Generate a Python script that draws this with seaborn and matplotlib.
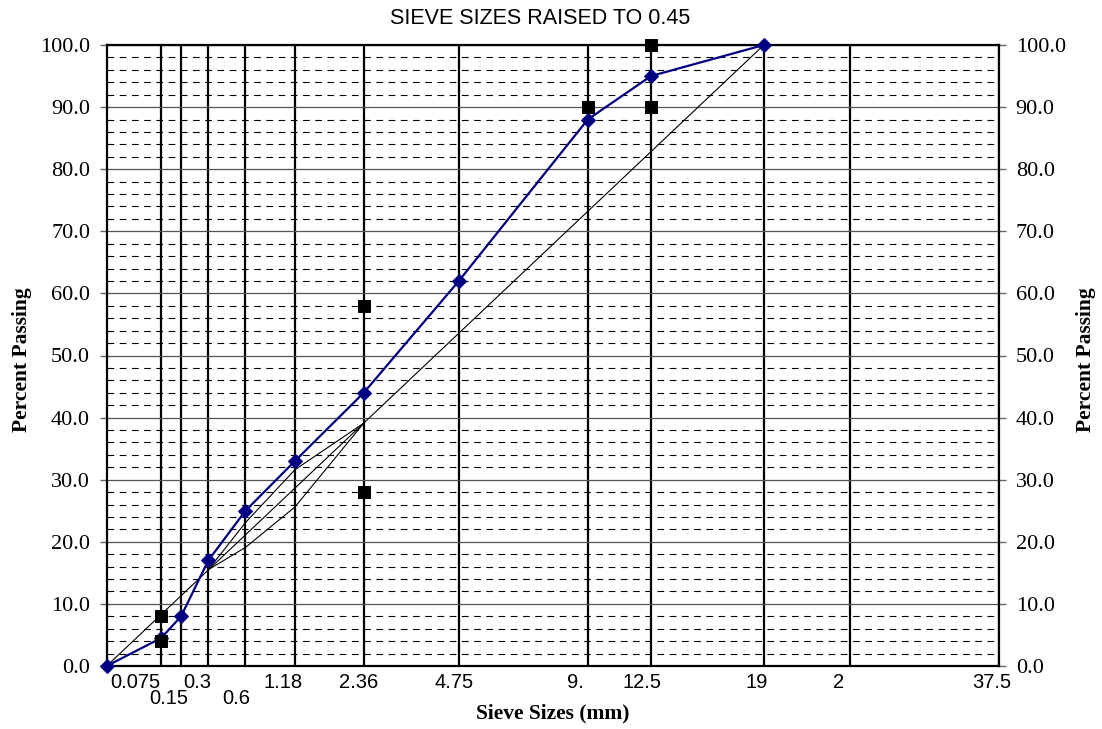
import numpy as np
import pandas as pd
import seaborn as sns
import matplotlib.pyplot as plt
from matplotlib.ticker import MultipleLocator

POWER = 0.45

# sieve sizes (mm) and the labels as they appear under the axis
sieve_sizes = [0.075, 0.15, 0.3, 0.6, 1.18, 2.36, 4.75, 9.5, 12.5, 19, 25, 37.5]
sieve_labels = ["0.075", "0.15", "0.3", "0.6", "1.18", "2.36", "4.75", "9.", "12.5", "19", "2", "37.5"]
label_row = [0, 1, 0, 1, 0, 0, 0, 0, 0, 0, 0, 0]
label_dx = [-26, -12, -11, -9, -12, -5, -5, -12, -9, -7, -12, -7]

# blend gradation
blend_sizes = [0, 0.075, 0.15, 0.3, 0.6, 1.18, 2.36, 4.75, 9.5, 12.5, 19]
blend_passing = [0, 4.5, 8, 17, 25, 33, 44, 62, 88, 95, 100]

# control points
control_sizes = [0.075, 0.075, 2.36, 2.36, 9.5, 12.5, 12.5]
control_passing = [4, 8, 28, 58, 90, 90, 100]

# maximum density line
maxden_sizes = [0, 19]
maxden_passing = [0, 100]

# restricted zone
rz_sizes = [0.3, 0.6, 1.18, 2.36]
rz_lower = [15.5, 19.1, 25.6, 39.1]
rz_upper = [15.5, 23.1, 31.6, 39.1]


def pw(sizes):
    return np.asarray(sizes, dtype=float) ** POWER


sns.set_style("white")
plt.rcParams["font.family"] = "serif"
plt.rcParams["font.serif"] = ["Liberation Serif", "DejaVu Serif"]
plt.rcParams["text.color"] = "black"
plt.rcParams["xtick.color"] = "black"
plt.rcParams["ytick.color"] = "black"
plt.rcParams["axes.labelcolor"] = "black"

fig = plt.figure(figsize=(11.02, 7.29), dpi=100)
W, H = 1102, 729
ax_l, ax_r, ax_t, ax_b = 106.7, 999, 45, 666
ax = fig.add_axes([ax_l / W, 1 - ax_b / H, (ax_r - ax_l) / W, (ax_b - ax_t) / H])

blend = pd.DataFrame({"x": pw(blend_sizes), "y": blend_passing})
control = pd.DataFrame({"x": pw(control_sizes), "y": control_passing})
maxden = pd.DataFrame({"x": pw(maxden_sizes), "y": maxden_passing})
rz_lo = pd.DataFrame({"x": pw(rz_sizes), "y": rz_lower})
rz_hi = pd.DataFrame({"x": pw(rz_sizes), "y": rz_upper})

for d in (maxden, rz_lo, rz_hi):
    sns.lineplot(data=d, x="x", y="y", ax=ax, color="black", lw=0.8,
                 sort=False, estimator=None, zorder=3)

sns.lineplot(data=blend, x="x", y="y", ax=ax, color="#000080", lw=1.6,
             marker="D", markersize=7, markeredgecolor="#000080",
             sort=False, estimator=None, zorder=4, clip_on=False)

sns.scatterplot(data=control, x="x", y="y", ax=ax, marker="s", s=75,
                color="black", edgecolor="black", zorder=5, clip_on=False)

ax.set_xlim(0, 37.5 ** POWER)
ax.set_ylim(0, 100)
ax.set_xticks(pw(sieve_sizes))
ax.set_xticklabels([])
ax.set_yticks(np.arange(0, 101, 10))
ax.set_yticklabels([f"{v:.1f}" for v in range(0, 101, 10)])
ax.yaxis.set_minor_locator(MultipleLocator(2))

ax.set_axisbelow(True)
ax.grid(True, axis="x", which="major", color="black", lw=1.6)
ax.grid(True, axis="y", which="major", color="#555555", lw=0.9)
ax.grid(True, axis="y", which="minor", color="black", lw=0.8, ls=(0, (6, 5)))

ax.tick_params(axis="x", length=0)
ax.tick_params(axis="y", which="major", left=True, right=True,
               labelleft=True, labelright=True, length=5, width=1,
               color="#666666", labelcolor="black", pad=7, labelsize=16)
ax.tick_params(axis="y", which="minor", length=0)

for sp in ax.spines.values():
    sp.set_visible(True)
    sp.set_color("black")
    sp.set_linewidth(1.6)

ax.set_xlabel("")
ax.set_ylabel("")

row_y = [-16, -32]
for s, lab, r, dx in zip(sieve_sizes, sieve_labels, label_row, label_dx):
    ax.annotate(lab, xy=(s ** POWER, 0), xycoords=ax.get_xaxis_transform(),
                xytext=(dx, row_y[r]), textcoords="offset pixels",
                ha="center", va="center", fontsize=14.5, color="black",
                family="Liberation Sans", annotation_clip=False)

fig.text(540 / W, 1 - 18.3 / H, "SIEVE SIZES RAISED TO 0.45",
         ha="center", va="center", fontsize=15.5, family="Liberation Sans")
fig.text(553 / W, 1 - 713 / H, "Sieve Sizes (mm)", ha="center", va="center",
         fontsize=15.5, fontweight="bold")
fig.text(21.7 / W, 1 - 360 / H, "Percent Passing", ha="center", va="center",
         rotation=90, fontsize=15.5, fontweight="bold")
fig.text(1086 / W, 1 - 360 / H, "Percent Passing", ha="center", va="center",
         rotation=90, fontsize=15.5, fontweight="bold")

fig.savefig("out.png", dpi=100)
